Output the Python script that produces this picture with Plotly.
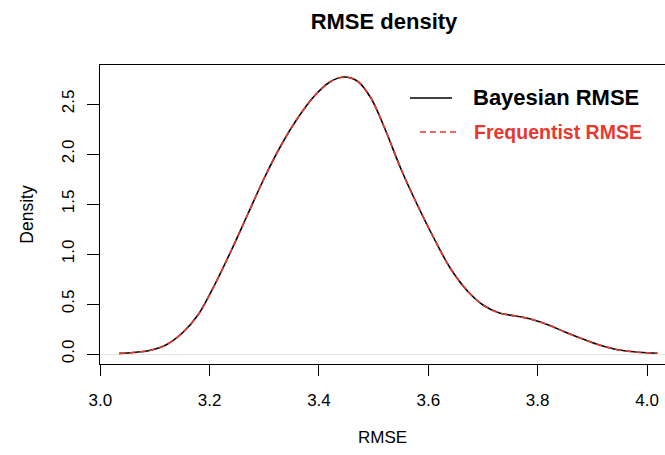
import plotly.graph_objects as go

# Density curve (RMSE value -> density)
rmse = [3.035, 3.06, 3.09, 3.12, 3.15, 3.18, 3.21, 3.24, 3.27, 3.30, 3.33, 3.36,
        3.39, 3.42, 3.445, 3.47, 3.495, 3.52, 3.55, 3.58, 3.61, 3.64, 3.67, 3.70,
        3.73, 3.76, 3.79, 3.82, 3.85, 3.88, 3.91, 3.94, 3.97, 4.00, 4.019]
density_bayes = [0.006, 0.015, 0.035, 0.09, 0.21, 0.40, 0.70, 1.04, 1.40, 1.76, 2.08, 2.35,
                 2.57, 2.72, 2.77, 2.73, 2.56, 2.26, 1.85, 1.49, 1.16, 0.86, 0.64, 0.49,
                 0.41, 0.38, 0.345, 0.29, 0.22, 0.155, 0.095, 0.05, 0.025, 0.012, 0.008]
density_freq = list(density_bayes)

x_ticks = [3.0, 3.2, 3.4, 3.6, 3.8, 4.0]
y_ticks = [0.0, 0.5, 1.0, 1.5, 2.0, 2.5]
series_names = ["Bayesian RMSE", "Frequentist RMSE"]

FONT = "Liberation Sans, Arial, Helvetica, sans-serif"
RED = "#e8382f"

W, H = 665, 455
L, T, B = 100, 65, 364  # plot box in pixels
def px(xp):
    return (xp - L) / (W - L)
def py(yp):
    return (B - yp) / (B - T)

fig = go.Figure()
fig.add_trace(go.Scatter(x=rmse, y=density_bayes, mode="lines", name=series_names[0],
                         line=dict(color="black", width=1.6, shape="spline", smoothing=0.9)))
fig.add_trace(go.Scatter(x=rmse, y=density_freq, mode="lines", name=series_names[1],
                         line=dict(color=RED, width=1.6, dash="6px,4px", shape="spline", smoothing=0.9)))

fig.update_layout(
    width=W, height=H,
    margin=dict(l=L, r=0, t=T, b=H - B, pad=0),
    paper_bgcolor="white", plot_bgcolor="white",
    showlegend=False,
    font=dict(family=FONT, color="black", size=17),
    title=dict(text="<b>RMSE density</b>", xref="container", yref="container",
               x=384 / W, y=1 - 21 / H, xanchor="center", yanchor="middle",
               font=dict(size=22, family=FONT, color="black")),
)

fig.update_xaxes(
    range=[2.9995, 3.0 + (W - L) / 547.0],
    tickvals=x_ticks, ticktext=[f"{v:.1f}" for v in x_ticks],
    ticks="outside", ticklen=11, tickwidth=1, tickcolor="black",
    showline=True, linecolor="black", linewidth=1, mirror=True,
    showgrid=False, zeroline=False,
    tickfont=dict(size=17, family=FONT, color="black"),
    ticklabelstandoff=10,
    title=dict(text="RMSE", font=dict(size=17, family=FONT), standoff=21),
)
fig.update_yaxes(
    range=[-0.10, 2.89],
    tickvals=y_ticks, ticktext=[f"{v:.1f}" for v in y_ticks],
    ticks="outside", ticklen=12, tickwidth=1, tickcolor="black",
    showline=True, linecolor="black", linewidth=1, mirror=False,
    showgrid=False,
    zeroline=True, zerolinecolor="#e6e6e6", zerolinewidth=1,
    tickangle=-90,
    tickfont=dict(size=17, family=FONT, color="black"),
    ticklabelstandoff=6,
    title=dict(text="Density", font=dict(size=17.5, family=FONT), standoff=21),
)

# Legend (no box), drawn as annotations and sample lines
fig.add_shape(type="line", xref="paper", yref="paper", x0=px(410), x1=px(452),
              y0=py(98), y1=py(98), line=dict(color="black", width=1.6))
fig.add_shape(type="line", xref="paper", yref="paper", x0=px(420), x1=px(458),
              y0=py(132), y1=py(132), line=dict(color=RED, width=1.6, dash="6px,4px"))
fig.add_annotation(text="<b>" + series_names[0] + "</b>", xref="paper", yref="paper",
                   x=px(471), y=py(97), xanchor="left", yanchor="middle", showarrow=False,
                   font=dict(size=22, family=FONT, color="black"))
fig.add_annotation(text="<b>" + series_names[1] + "</b>", xref="paper", yref="paper",
                   x=px(472), y=py(132), xanchor="left", yanchor="middle", showarrow=False,
                   font=dict(size=19.5, family=FONT, color=RED))

fig.write_html("out.html")
